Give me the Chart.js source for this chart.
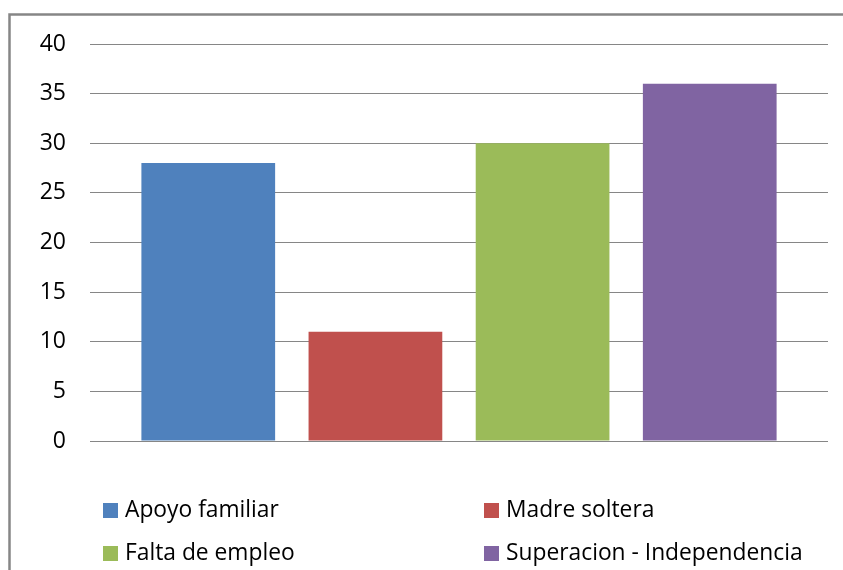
<!DOCTYPE html>
<html>
<head>
<meta charset="utf-8">
<script src="https://cdn.jsdelivr.net/npm/chart.js@4/dist/chart.umd.min.js"></script>
<style>
html,body{margin:0;padding:0;background:#fff;}
canvas{display:block;}
</style>
</head>
<body>
<canvas id="c" width="843" height="570"></canvas>
<script>
const categories = [""];
const seriesNames = ["Apoyo familiar", "Madre soltera", "Falta de empleo", "Superacion - Independencia"];
const seriesValues = [28, 11, 30, 36];
const seriesColors = ["#4F81BD", "#C0504D", "#9BBB59", "#8064A2"];
const yTicks = [0, 5, 10, 15, 20, 25, 30, 35, 40];

const FONT = "'Open Sans', sans-serif";

const framePlugin = {
  id: 'frame',
  beforeDraw(chart) {
    const ctx = chart.ctx;
    ctx.save();
    ctx.fillStyle = '#fff';
    ctx.fillRect(0, 0, chart.width, chart.height);
    ctx.strokeStyle = '#868686';
    ctx.lineWidth = 2.5;
    ctx.strokeRect(9.5, 14.5, 900, 700);
    ctx.restore();
  }
};

const legendPlugin = {
  id: 'gridLegend',
  afterDraw(chart) {
    const ctx = chart.ctx;
    const cols = [103, 484];
    const rows = [510, 553];
    ctx.save();
    ctx.font = "22.8px " + FONT;
    ctx.textBaseline = 'middle';
    ctx.textAlign = 'left';
    chart.data.datasets.forEach((ds, i) => {
      const x = cols[i % 2];
      const y = rows[Math.floor(i / 2)];
      ctx.fillStyle = ds.backgroundColor;
      ctx.fillRect(x, y - 7, 15, 15);
      ctx.fillStyle = '#000';
      ctx.fillText(ds.label, x + 22, y + 1);
    });
    ctx.restore();
  }
};

new Chart(document.getElementById('c'), {
  type: 'bar',
  data: {
    labels: categories,
    datasets: seriesNames.map((n, i) => ({
      label: n,
      data: [seriesValues[i]],
      backgroundColor: seriesColors[i],
      borderWidth: 0,
      categoryPercentage: 0.906,
      barPercentage: 0.8
    }))
  },
  options: {
    responsive: false,
    animation: false,
    devicePixelRatio: 1,
    layout: { padding: { left: 0, right: 15, top: 44, bottom: 129 } },
    plugins: { legend: { display: false }, tooltip: { enabled: false } },
    scales: {
      x: { display: false },
      y: {
        min: 0, max: 40,
        afterFit(s) { s.width = 90; },
        afterBuildTicks(s) { s.ticks = yTicks.map(v => ({ value: v })); },
        border: { display: false },
        grid: { color: '#868686', lineWidth: 1, drawTicks: false },
        ticks: { padding: 24, color: '#000', font: { family: FONT, size: 23 } }
      }
    }
  },
  plugins: [framePlugin, legendPlugin]
});
</script>
</body>
</html>
